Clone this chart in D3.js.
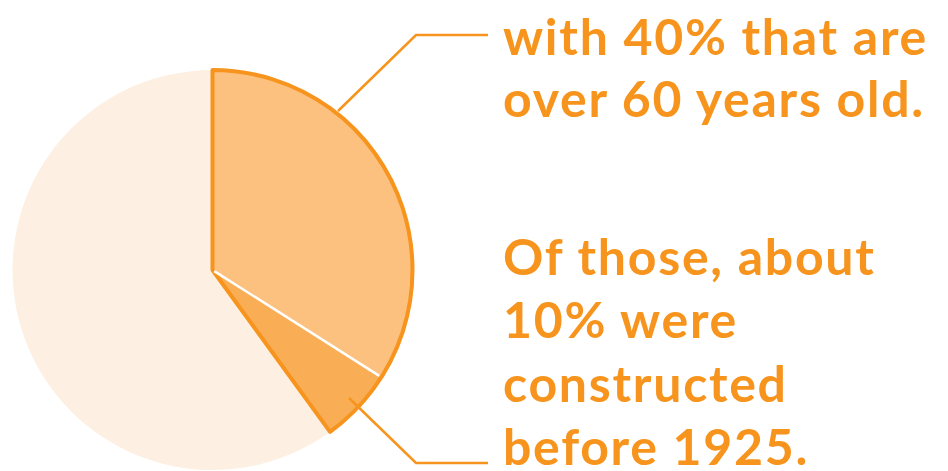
<!DOCTYPE html>
<html><head><meta charset="utf-8">
<script src="https://cdn.jsdelivr.net/npm/d3@7"></script>
<style>body{margin:0;background:#fff}svg{display:block}</style>
</head><body>
<svg id="c" width="948" height="471"></svg>
<script>
const categories = ["Over 60 years old (1925 and later)", "Built before 1925", "Under 60 years old"];
const shares = [34, 6, 60];
const sliceColors = ["#fcc17f", "#f9ad55", "#fdf0e2"];
const topLines = ["with 40% that are", "over 60 years old."];
const bottomLines = ["Of those, about", "10% were", "constructed", "before 1925."];

const orange = "#f7941d";
const svg = d3.select("#c");
const cx = 212.5, cy = 270, r = 200;
const g = svg.append("g").attr("transform", `translate(${cx},${cy})`);

const pie = d3.pie().sort(null).value(d => d)(shares);
const arc = d3.arc().innerRadius(0).outerRadius(r);

g.append("path").attr("d", arc(pie[2])).attr("fill", sliceColors[2]);

const union = {startAngle: pie[0].startAngle, endAngle: pie[1].endAngle};
g.append("path").attr("d", arc(pie[0])).attr("fill", sliceColors[0]);
g.append("path").attr("d", arc(pie[1])).attr("fill", sliceColors[1]);
g.append("path").attr("d", arc(union)).attr("fill", "none")
  .attr("stroke", orange).attr("stroke-width", 4).attr("stroke-linejoin", "round");
const a = pie[0].endAngle;
g.append("line").attr("x1", 2 * Math.sin(a)).attr("y1", -2 * Math.cos(a))
  .attr("x2", (r - 2.5) * Math.sin(a)).attr("y2", -(r - 2.5) * Math.cos(a))
  .attr("stroke", "#fff").attr("stroke-width", 2.5);

svg.append("polyline")
  .attr("points", [[338, 111], [416, 35], [488, 35]].map(p => p.join(",")).join(" "))
  .attr("fill", "none").attr("stroke", orange).attr("stroke-width", 2.5);
svg.append("polyline")
  .attr("points", [[349, 398], [416, 463], [488, 463]].map(p => p.join(",")).join(" "))
  .attr("fill", "none").attr("stroke", orange).attr("stroke-width", 2.5);

const tx = 503, fs = 50, targetW = 425;
function block(lines, y0, lh) {
  return svg.append("g").selectAll("text").data(lines).join("text")
    .attr("x", tx).attr("y", (d, i) => y0 + i * lh)
    .attr("fill", orange)
    .attr("font-family", "Lato, sans-serif")
    .attr("font-weight", 700).attr("font-size", fs)
    .text(d => d);
}
const t1 = block(topLines, 54.5, 62.5);
const t2 = block(bottomLines, 275, 63.3);
const first = t1.nodes()[0];
const w = first.getComputedTextLength();
const ls = (targetW - w) / (topLines[0].length);
svg.selectAll("text").attr("letter-spacing", ls);
</script>
</body></html>
